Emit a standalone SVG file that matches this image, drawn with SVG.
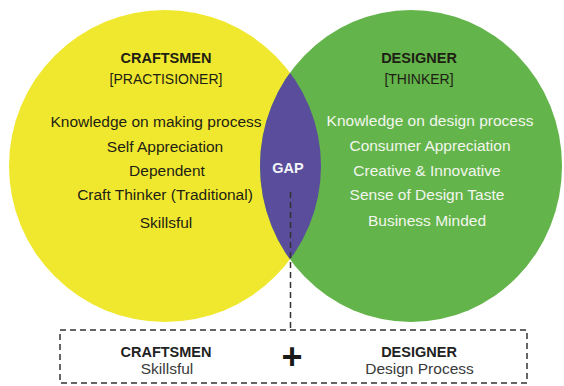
<svg xmlns="http://www.w3.org/2000/svg" width="564" height="386" viewBox="0 0 564 386">
<defs>
<style>
text{font-family:"Liberation Sans",Arial,sans-serif;text-anchor:middle}
.h{font-weight:bold;font-size:14.5px}
.s{font-size:14px}
.l{font-size:15.5px}
.dk{fill:#1e1e14}
.wt{fill:#f2f6ee}
.g{fill:#3a3a3a}
.dash{fill:none;stroke:#333;stroke-width:1.5;stroke-dasharray:6 4}
</style>
<clipPath id="yc"><circle cx="165" cy="166" r="156"/></clipPath>
</defs>
<rect width="564" height="386" fill="#fff"/>
<g id="craftsmen">
<circle cx="165" cy="166" r="156" fill="#f0e82e"/>
</g>
<g id="designer">
<ellipse cx="411" cy="166" rx="151" ry="156" fill="#63b44a"/>
</g>
<g id="gap">
<ellipse cx="411" cy="166" rx="151" ry="156" fill="#5a4e9c" clip-path="url(#yc)"/>
<text x="288" y="173" class="h" fill="#f4f4f8">GAP</text>
</g>
<g id="craftsmen-text" class="dk">
<text x="166" y="63" class="h">CRAFTSMEN</text>
<text x="166" y="84" class="s">[PRACTISIONER]</text>
<text x="156" y="127" class="l">Knowledge on making process</text>
<text x="165" y="152" class="l">Self Appreciation</text>
<text x="167" y="176" class="l">Dependent</text>
<text x="165" y="200" class="l">Craft Thinker (Traditional)</text>
<text x="166" y="228" class="l">Skillsful</text>
</g>
<g id="designer-text">
<text x="419" y="63" class="h dk">DESIGNER</text>
<text x="419" y="84" class="s dk">[THINKER]</text>
<text x="430" y="126" class="l wt">Knowledge on design process</text>
<text x="430" y="151" class="l wt">Consumer Appreciation</text>
<text x="427" y="176" class="l wt">Creative &amp; Innovative</text>
<text x="427" y="200" class="l wt">Sense of Design Taste</text>
<text x="427" y="226" class="l wt">Business Minded</text>
</g>
<g id="connectors">
<line x1="290.5" y1="192" x2="290.5" y2="330" class="dash"/>
</g>
<g id="result">
<rect x="60" y="330" width="467" height="53" class="dash"/>
<text x="166" y="357" class="h" fill="#222">CRAFTSMEN</text>
<text x="167" y="374" class="l g">Skillsful</text>
<text x="292" y="369" font-size="36" font-weight="bold" fill="#1a1a1a">+</text>
<text x="419" y="357" class="h" fill="#222">DESIGNER</text>
<text x="419.5" y="374" class="l g">Design Process</text>
</g>
</svg>
